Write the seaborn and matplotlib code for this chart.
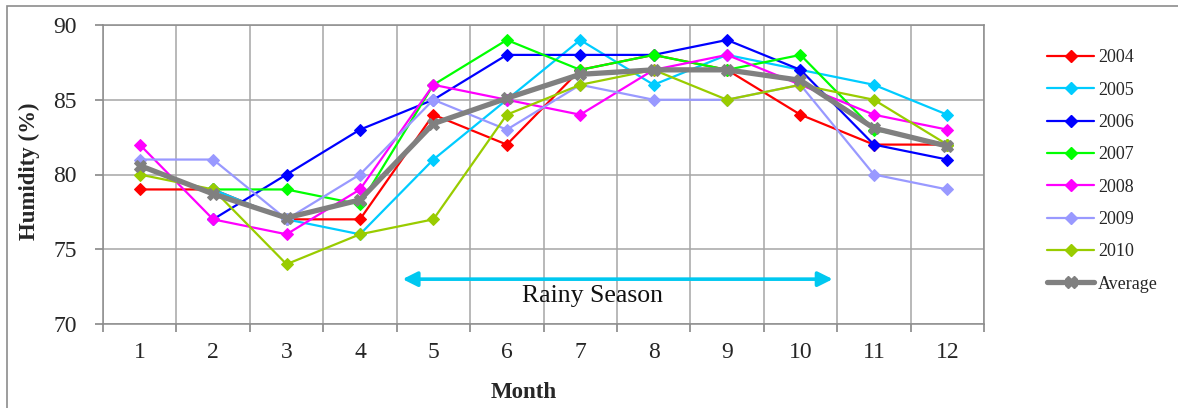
import numpy as np
import pandas as pd
import matplotlib
matplotlib.use("Agg")
import matplotlib.pyplot as plt
from matplotlib.lines import Line2D
from matplotlib.patches import Rectangle
import seaborn as sns

months = list(range(1, 13))
nan = np.nan
h2004 = [79, 79, 77, 77, 84, 82, 87, 88, 87, 84, 82, 82]
h2005 = [nan, 79, 77, 76, 81, 85, 89, 86, 88, 87, 86, 84]
h2006 = [nan, 77, 80, 83, 85, 88, 88, 88, 89, 87, 82, 81]
h2007 = [nan, 79, 79, 78, 86, 89, 87, 88, 87, 88, 83, 82]
h2008 = [82, 77, 76, 79, 86, 85, 84, 87, 88, 86, 84, 83]
h2009 = [81, 81, 77, 80, 85, 83, 86, 85, 85, 86, 80, 79]
h2010 = [80, 79, 74, 76, 77, 84, 86, 87, 85, 86, 85, 82]
average = [80.6, 78.7, 77.1, 78.3, 83.4, 85.1, 86.7, 87.0, 87.0, 86.3, 83.1, 81.9]

years = ["2004", "2005", "2006", "2007", "2008", "2009", "2010"]
series = [h2004, h2005, h2006, h2007, h2008, h2009, h2010]
colors = ["#FF0000", "#00CCFF", "#0000FF", "#00FF00", "#FF00FF", "#9999FF", "#99CC00"]
avg_color = "#808080"

sns.set_theme(style="white")
plt.rcParams["font.family"] = ["Liberation Serif", "DejaVu Serif"]

df = pd.DataFrame({
    "Month": months * len(years),
    "Humidity": sum(series, []),
    "Year": np.repeat(years, len(months)),
})
avg_df = pd.DataFrame({"Month": months, "Humidity": average})

fig = plt.figure(figsize=(11.78, 4.08), dpi=100)
W, H = 1178, 408
ax = fig.add_axes([103 / W, 1 - 324 / H, (984 - 103) / W, (324 - 25) / H])

# outer chart border
fig.patches.append(Rectangle((7 / W, -0.05), 1.2, 1 - 6 / H + 0.05,
                             transform=fig.transFigure, fill=False,
                             edgecolor="#8c8c8c", linewidth=1.2))

grid_c = "#a6a6a6"
for x in np.arange(0.5, 13, 1):
    ax.axvline(x, color=grid_c, lw=1.1, zorder=0)
for y in range(70, 91, 5):
    ax.axhline(y, color=grid_c, lw=1.1, zorder=0)

for yr, col in zip(years, colors):
    sub = df[df["Year"] == yr].dropna()
    sns.lineplot(data=sub, x="Month", y="Humidity", ax=ax, color=col,
                 linewidth=1.6, marker="D", markersize=6.5,
                 markeredgecolor=col, legend=False, zorder=3)
sns.lineplot(data=avg_df, x="Month", y="Humidity", ax=ax, color=avg_color,
             linewidth=3.8, marker="X", markersize=9, markeredgecolor=avg_color,
             legend=False, zorder=4)

ax.set_xlim(0.5, 12.5)
ax.set_ylim(70, 90)
ax.set_xticks(np.arange(0.5, 13, 1))
ax.set_xticklabels([])
ax.set_xticks(months, minor=True)
ax.set_xticklabels([str(m) for m in months], minor=True, fontsize=17)
ax.tick_params(axis="x", which="major", length=6, color="#8c8c8c", direction="out", bottom=True)
ax.tick_params(axis="x", which="minor", length=0, pad=13)
ax.set_yticks(range(70, 91, 5))
ax.set_yticklabels([str(v) for v in range(70, 91, 5)], fontsize=17)
ax.tick_params(axis="y", length=6, color="#8c8c8c", direction="out", left=True, pad=13)
for s in ax.spines.values():
    s.set_color("#8c8c8c")
    s.set_linewidth(1.1)

ax.set_xlabel("Month", fontsize=16.5, fontweight="bold")
ax.xaxis.set_label_coords((524 - 103) / 881, -(382 - 324) / 299)
ax.set_ylabel("Humidity (%)", fontsize=16.5, fontweight="bold")
ax.yaxis.set_label_coords(-(103 - 40) / 881, 0.51)

# rainy season span
ax.annotate("", xy=(10.44, 73), xytext=(4.58, 73),
            arrowprops=dict(arrowstyle="<|-|>", color="#00C8F0", lw=2.6,
                            mutation_scale=22, shrinkA=0, shrinkB=0))
ax.text(7.17, 71.85, "Rainy Season", fontsize=18.5, ha="center", va="center", color="#111111")

handles = [Line2D([], [], color=c, lw=1.6, marker="D", markersize=6, markeredgecolor=c) for c in colors]
handles.append(Line2D([], [], color=avg_color, lw=3.8, marker="X", markersize=8, markeredgecolor=avg_color))
fig.legend(handles, years + ["Average"], loc="upper left",
           bbox_to_anchor=(1040 / W, 1 - 42 / H), frameon=False, fontsize=13,
           handlelength=2.6, labelspacing=0.85, handletextpad=0.2, borderaxespad=0)

fig.savefig("out.png", dpi=100)
